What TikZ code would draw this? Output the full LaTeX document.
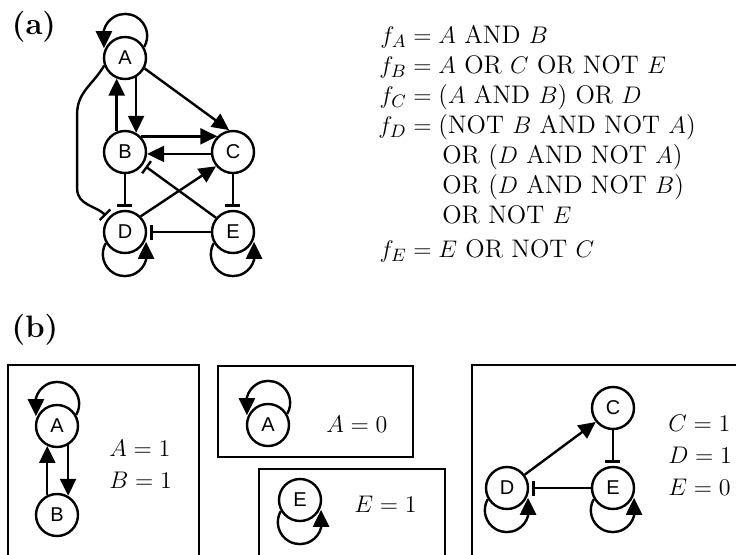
\documentclass[12pt,tikz,border=0pt]{standalone}
\usepackage{fontspec}
\setsansfont{Liberation Sans}
\usetikzlibrary{arrows.meta}

\begin{document}
\begin{tikzpicture}[x=0.5pt, y=0.5pt,
    gene/.style={circle, draw, line width=1.2pt, minimum size=21pt, inner sep=0pt, font=\sffamily\fontsize{10}{12}\selectfont},
    act/.style={line width=1.2pt, -{Triangle[length=8.5pt,width=8pt]}},
    inh/.style={line width=1.2pt, -{Bar[width=7.5pt]}, shorten >=1.5pt},
    panel/.style={draw, line width=1.4pt},
    state/.style={anchor=west, align=left, font=\fontsize{12.7}{15}\selectfont},
    lbl/.style={font=\bfseries\fontsize{15.5}{18}\selectfont}]
    \useasboundingbox (0,0) rectangle (736,-554);

    % (a) whole network
    \node[lbl] (la) at (34,-27) {(a)};
    \node[gene] (A) at (125,-58) {A};
    \node[gene] (B) at (125,-152) {B};
    \node[gene] (C) at (233,-152) {C};
    \node[gene] (D) at (125,-232) {D};
    \node[gene] (E) at (233,-232) {E};

    % self loops
    \draw[act] (A.30) arc[start angle=-30, end angle=165, radius=11pt] -- ++(0,-9pt);
    \draw[act] (D.210) arc[start angle=150, end angle=345, radius=11pt] -- ++(0,9pt);
    \draw[act] (E.210) arc[start angle=150, end angle=345, radius=11pt] -- ++(0,9pt);

    % edges
    \draw[act] (A.-60) -- (B.60);
    \draw[act] (B.112) -- (A.-112);
    \draw[act] (A.-28) -- (C.100);
    \draw[act] (B.45) -- (C.135);
    \draw[act] (C.185) -- (B.-5);
    \draw[act] (D.45) -- (C.-140);
    \draw[inh] (B) -- (D);
    \draw[inh] (C) -- (E);
    \draw[inh] (E) -- (D);
    \draw[inh] (E.140) -- (B.-35);
    \draw[inh] (A.200) to[out=240, in=90] ++(-27,-48) -- ++(0,-75) to[out=-90, in=135] (D.140);

    % update rules
    \node[anchor=base west, inner sep=0pt, font=\fontsize{12.7}{15}\selectfont] (rules) at (378,-43) {%
      \begin{tabular}[t]{@{}r@{}l@{}}
        $f_A = {}$ & $A$ AND $B$\\
        $f_B = {}$ & $A$ OR $C$ OR NOT $E$\\
        $f_C = {}$ & ($A$ AND $B$) OR $D$\\
        $f_D = {}$ & (NOT $B$ AND NOT $A$)\\
                   & \hspace{2pt}OR ($D$ AND NOT $A$)\\
                   & \hspace{2pt}OR ($D$ AND NOT $B$)\\
                   & \hspace{2pt}OR NOT $E$\\[2pt]
        $f_E = {}$ & $E$ OR NOT $C$
      \end{tabular}};

    % (b) attractors
    \node[lbl] (lb) at (35,-330) {(b)};

    % box 1
    \draw[panel] (8,-365) rectangle (199,-600);
    \node[gene] (A1) at (57,-426) {A};
    \node[gene] (B1) at (57,-515) {B};
    \draw[act] (A1.30) arc[start angle=-30, end angle=165, radius=11pt] -- ++(0,-9pt);
    \draw[act] (A1.-60) -- (B1.60);
    \draw[act] (B1.116) -- (A1.-116);
    \node[state] (s1) at (101,-464) {$A = 1$\\[1pt]$B = 1$};

    % box 2
    \draw[panel] (218,-366) rectangle (413,-457);
    \node[gene] (A2) at (268,-425) {A};
    \draw[act] (A2.30) arc[start angle=-30, end angle=165, radius=11pt] -- ++(0,-9pt);
    \node[state] (s2) at (318,-424) {$A = 0$};

    % box 3
    \draw[panel] (259,-469) rectangle (445,-600);
    \node[gene] (E3) at (300,-500) {E};
    \draw[act] (E3.210) arc[start angle=150, end angle=345, radius=11pt] -- ++(0,9pt);
    \node[state] (s3) at (346,-504) {$E = 1$};

    % box 4
    \draw[panel] (472,-365) rectangle (760,-600);
    \node[gene] (C4) at (613,-408) {C};
    \node[gene] (D4) at (507,-488) {D};
    \node[gene] (E4) at (613,-488) {E};
    \draw[act] (D4.210) arc[start angle=150, end angle=345, radius=11pt] -- ++(0,9pt);
    \draw[act] (E4.210) arc[start angle=150, end angle=345, radius=11pt] -- ++(0,9pt);
    \draw[act] (D4.37) -- (C4.219);
    \draw[inh] (C4) -- (E4);
    \draw[inh] (E4) -- (D4);
    \node[state] (s4) at (660,-455) {$C = 1$\\[1pt]$D = 1$\\[1pt]$E = 0$};
\end{tikzpicture}
\end{document}
